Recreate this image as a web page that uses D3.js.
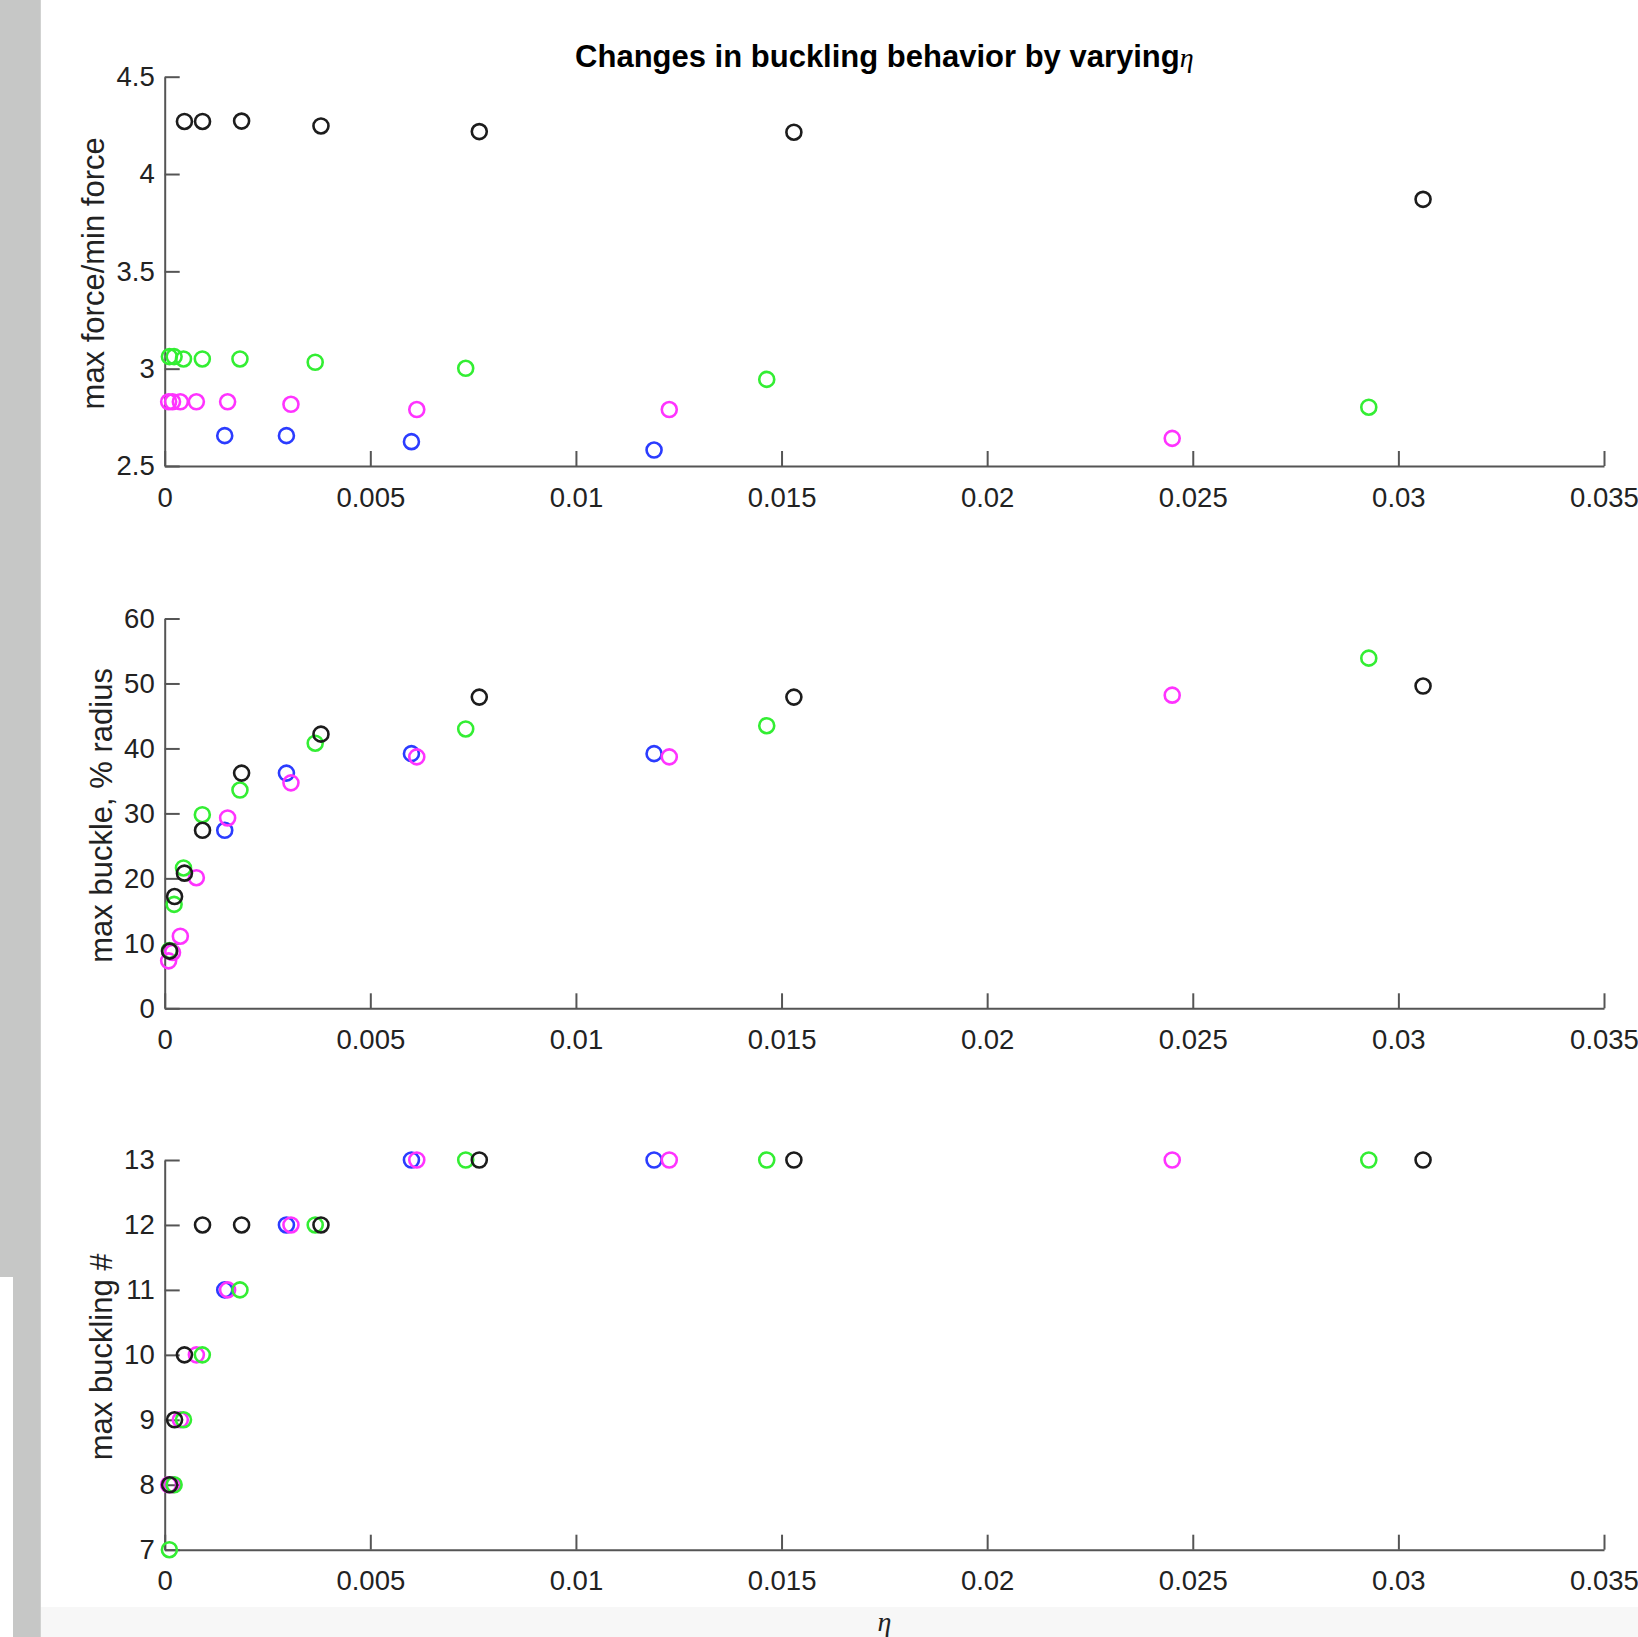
<!DOCTYPE html>
<html>
<head>
<meta charset="utf-8">
<script src="https://cdnjs.cloudflare.com/ajax/libs/d3/7.8.5/d3.min.js"></script>
<style>
  body { margin: 0; background: #fff; }
  svg { display: block; }
  .tick text { fill: #222; }
</style>
</head>
<body>
<div id="chart"></div>
<script>
// eta values per series (x axis, shared by all three panels)
var etaBlack = [0.00012, 0.00024, 0.00048, 0.00092, 0.00187, 0.0038, 0.00765, 0.0153, 0.0306];
var etaGreen = [0.000114, 0.000229, 0.000457, 0.000915, 0.00183, 0.00366, 0.00732, 0.01464, 0.02928];
var etaMagenta = [0.000096, 0.00019, 0.00038, 0.00077, 0.00153, 0.00307, 0.00613, 0.01227, 0.0245];
var etaBlue = [0.00146, 0.00296, 0.006, 0.0119];

// panel 1: max force / min force (null = off the axes)
var ratioBlack = [null, null, 4.27, 4.27, 4.272, 4.247, 4.218, 4.215, 3.87];
var ratioGreen = [3.062, 3.062, 3.05, 3.05, 3.05, 3.033, 3.002, 2.945, 2.802];
var ratioMagenta = [2.83, 2.83, 2.83, 2.83, 2.83, 2.817, 2.79, 2.79, 2.642];
var ratioBlue = [2.656, 2.656, 2.625, 2.582];

// panel 2: max buckle, % radius
var buckleBlack = [8.8, 17.2, 20.8, 27.4, 36.2, 42.2, 47.9, 47.9, 49.6];
var buckleGreen = [8.9, 16.0, 21.6, 29.8, 33.6, 40.8, 43.0, 43.5, 53.9];
var buckleMagenta = [7.3, 8.6, 11.1, 20.1, 29.3, 34.7, 38.7, 38.7, 48.2];
var buckleBlue = [27.4, 36.2, 39.2, 39.2];

// panel 3: max buckling #
var countBlack = [8, 9, 10, 12, 12, 12, 13, 13, 13];
var countGreen = [7, 8, 9, 10, 11, 12, 13, 13, 13];
var countMagenta = [8, 8, 9, 10, 11, 12, 13, 13, 13];
var countBlue = [11, 12, 13, 13];

// tick labels
var xTicks = [0, 0.005, 0.01, 0.015, 0.02, 0.025, 0.03, 0.035];
var ratioTicks = [2.5, 3, 3.5, 4, 4.5];
var buckleTicks = [0, 10, 20, 30, 40, 50, 60];
var countTicks = [7, 8, 9, 10, 11, 12, 13];

var W = 1638, H = 1637;
var left = 164.7, right = 1604;
var tickFont = 27.5, labelFont = 31;

var svg = d3.select('#chart').append('svg')
  .attr('width', W).attr('height', H)
  .style('font-family', '"Liberation Sans", Arial, Helvetica, sans-serif');

// window background bits
svg.append('rect').attr('x', 0).attr('y', 0).attr('width', W).attr('height', H).attr('fill', '#fff');
svg.append('rect').attr('x', 40.8).attr('y', 1607).attr('width', W - 40.8).attr('height', H - 1607).attr('fill', '#f7f7f7');
svg.append('rect').attr('x', 0).attr('y', 0).attr('width', 40.8).attr('height', 1277).attr('fill', '#c6c7c6');
svg.append('rect').attr('x', 13).attr('y', 1277).attr('width', 27.8).attr('height', H - 1277).attr('fill', '#c6c7c6');

var x = d3.scaleLinear().domain([0, 0.035]).range([left, right]);

var colors = { blue: '#2b3cff', magenta: '#ff33ff', green: '#33ee33', black: '#1c1c1c' };
var order = ['blue', 'magenta', 'green', 'black'];
var etas = { black: etaBlack, green: etaGreen, magenta: etaMagenta, blue: etaBlue };

var panels = [
  { label: 'max force/min force', domain: [2.5, 4.5], ticks: ratioTicks, y0: 466, y1: 76.7,
    values: { black: ratioBlack, green: ratioGreen, magenta: ratioMagenta, blue: ratioBlue } },
  { label: 'max buckle, % radius', domain: [0, 60], ticks: buckleTicks, y0: 1008.3, y1: 618.5,
    values: { black: buckleBlack, green: buckleGreen, magenta: buckleMagenta, blue: buckleBlue } },
  { label: 'max buckling #', domain: [7, 13], ticks: countTicks, y0: 1549.7, y1: 1160,
    values: { black: countBlack, green: countGreen, magenta: countMagenta, blue: countBlue } }
];

var fmt = d3.format('~g');

panels.forEach(function (p) {
  var y = d3.scaleLinear().domain(p.domain).range([p.y0, p.y1]);
  var g = svg.append('g');

  // x axis, ticks pointing inward
  var xg = g.append('g')
    .attr('transform', 'translate(0,' + p.y0 + ')')
    .call(d3.axisBottom(x).tickValues(xTicks).tickFormat(fmt)
      .tickSizeInner(-15).tickSizeOuter(0).tickPadding(21));

  // y axis
  var yg = g.append('g')
    .attr('transform', 'translate(' + left + ',0)')
    .call(d3.axisLeft(y).tickValues(p.ticks).tickFormat(fmt)
      .tickSizeInner(-15).tickSizeOuter(0).tickPadding(10));

  [xg, yg].forEach(function (a) {
    a.selectAll('path, line').attr('stroke', '#555').attr('stroke-width', 2);
    a.selectAll('text').attr('font-size', tickFont).attr('font-family', null);
  });

  // y label sits just left of the tick labels
  var bx = yg.node().getBBox().x + left;
  g.append('text')
    .attr('transform', 'translate(' + (bx - 12.5) + ',' + ((p.y0 + p.y1) / 2 + 2) + ') rotate(-90)')
    .attr('text-anchor', 'middle')
    .attr('font-size', labelFont)
    .attr('fill', '#222')
    .text(p.label);

  // markers
  order.forEach(function (k) {
    var pts = etas[k].map(function (e, i) { return { x: e, y: p.values[k][i] }; })
      .filter(function (d) { return d.y != null; });
    g.append('g').selectAll('circle').data(pts).enter().append('circle')
      .attr('cx', function (d) { return x(d.x); })
      .attr('cy', function (d) { return y(d.y); })
      .attr('r', 7.5)
      .attr('fill', 'none')
      .attr('stroke', colors[k])
      .attr('stroke-width', 2.6);
  });
});

// title
var title = svg.append('text')
  .attr('x', (left + right) / 2).attr('y', 67)
  .attr('text-anchor', 'middle')
  .attr('font-size', labelFont)
  .attr('font-weight', 'bold')
  .attr('fill', '#000')
  .text('Changes in buckling behavior by varying');
title.append('tspan')
  .attr('font-family', '"Liberation Serif", "Times New Roman", serif')
  .attr('font-style', 'italic')
  .attr('font-weight', 'normal')
  .attr('font-size', 28)
  .text('η');

// x label
svg.append('text')
  .attr('x', (left + right) / 2).attr('y', 1631)
  .attr('text-anchor', 'middle')
  .attr('font-family', '"Liberation Serif", "Times New Roman", serif')
  .attr('font-style', 'italic')
  .attr('font-size', 28)
  .attr('fill', '#222')
  .text('η');
</script>
</body>
</html>
